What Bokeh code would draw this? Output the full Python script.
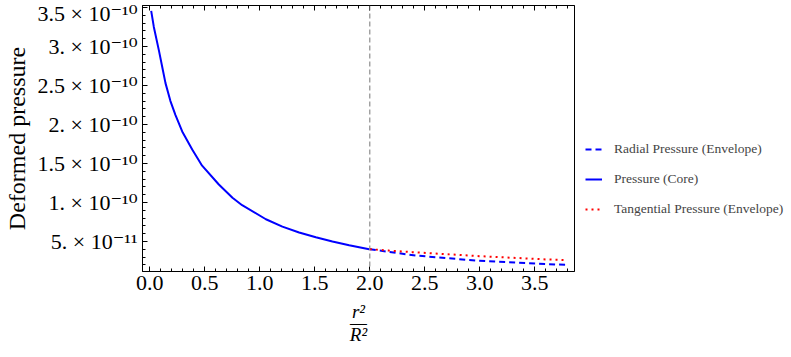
import numpy as np
from bokeh.plotting import figure
from bokeh.models import (Range1d, LinearAxis, FixedTicker, Legend, LegendItem,
                          Span, CustomJSTickFormatter)
from bokeh.embed import file_html
from bokeh.resources import INLINE

# ---- data ----
core_x = [0.012, 0.036, 0.082, 0.112, 0.142, 0.187, 0.233, 0.294, 0.385, 0.475,
          0.627, 0.751, 0.839, 1.055, 1.205, 1.357, 1.509, 1.660, 1.812, 1.994]
core_p = [3.456e-10, 3.250e-10, 2.950e-10, 2.740e-10, 2.530e-10, 2.300e-10, 2.120e-10,
          1.910e-10, 1.680e-10, 1.472e-10, 1.230e-10, 1.060e-10, 0.965e-10, 0.785e-10,
          0.690e-10, 0.615e-10, 0.553e-10, 0.499e-10, 0.451e-10, 0.401e-10]

radial_x = [2.0, 2.175, 2.327, 2.433, 2.994, 3.600, 3.780]
radial_p = [0.401e-10, 0.366e-10, 0.337e-10, 0.318e-10, 0.252e-10, 0.210e-10, 0.200e-10]

tang_x = [2.0, 2.175, 2.387, 2.994, 3.600, 3.780]
tang_p = [0.401e-10, 0.383e-10, 0.363e-10, 0.312e-10, 0.270e-10, 0.262e-10]

boundary_x = 2.0

x_ticks = [0.0, 0.5, 1.0, 1.5, 2.0, 2.5, 3.0, 3.5]
x_tick_labels = ["0.0", "0.5", "1.0", "1.5", "2.0", "2.5", "3.0", "3.5"]
y_ticks = [5e-11, 1e-10, 1.5e-10, 2e-10, 2.5e-10, 3e-10, 3.5e-10]
y_tick_labels = ["5. × 10⁻¹¹", "1. × 10⁻¹⁰", "1.5 × 10⁻¹⁰", "2. × 10⁻¹⁰",
                 "2.5 × 10⁻¹⁰", "3. × 10⁻¹⁰", "3.5 × 10⁻¹⁰"]

legend_labels = ["Radial Pressure (Envelope)", "Pressure (Core)",
                 "Tangential Pressure (Envelope)"]
y_axis_title = "Deformed pressure"
x_axis_title = "r²\n—\nR²"

# ---- figure ----
FONT = "Liberation Serif"
TICK_FONT = "Liberation Serif, DejaVu Serif"
p = figure(frame_width=432, frame_height=266, output_backend="svg",
           toolbar_location=None,
           x_range=Range1d(-0.067, 3.861), y_range=Range1d(1.15e-11, 3.525e-10),
           min_border_left=135, min_border_right=0, min_border_top=5,
           min_border_bottom=0)
p.grid.visible = False
p.outline_line_color = "black"
p.outline_line_alpha = 1
p.background_fill_color = "white"

x_minor = [round(v, 2) for v in np.arange(0.0, 3.85, 0.1)]
y_minor = [v * 1e-11 for v in range(2, 36)]
xticker = FixedTicker(ticks=x_ticks, minor_ticks=x_minor)
yticker = FixedTicker(ticks=y_ticks, minor_ticks=y_minor)

def style_axis(ax):
    ax.axis_line_color = "black"
    ax.axis_line_width = 1
    ax.major_tick_in = 5
    ax.major_tick_out = 0
    ax.minor_tick_in = 3
    ax.minor_tick_out = 0
    ax.major_tick_line_color = "black"
    ax.minor_tick_line_color = "black"
    ax.major_label_text_font = FONT
    ax.major_label_text_color = "black"

xa = p.xaxis[0]
xa.ticker = xticker
xa.major_label_overrides = dict(zip(x_ticks, x_tick_labels))
style_axis(xa)
xa.major_label_text_font_size = "22px"
xa.major_label_standoff = 4
xa.axis_label = x_axis_title
xa.axis_label_text_font = FONT
xa.axis_label_text_font_size = "19px"
xa.axis_label_text_font_style = "italic"
xa.axis_label_text_color = "black"
xa.axis_label_text_line_height = 0.55
xa.axis_label_standoff = 8

ya = p.yaxis[0]
ya.ticker = yticker
ya.major_label_overrides = dict(zip(y_ticks, y_tick_labels))
style_axis(ya)
ya.major_label_text_font = TICK_FONT
ya.major_label_text_font_size = "22px"
ya.major_label_standoff = 5
ya.axis_label = y_axis_title
ya.axis_label_text_font = FONT
ya.axis_label_text_font_size = "24px"
ya.axis_label_text_font_style = "normal"
ya.axis_label_text_color = "black"
ya.axis_label_standoff = 5

blank = CustomJSTickFormatter(code="return ''")
top = LinearAxis(ticker=xticker, formatter=blank)
style_axis(top)
top.major_label_standoff = 0
p.add_layout(top, "above")

# ---- lines ----
r_core = p.line(core_x, core_p, line_color="#0000ff", line_width=2)
r_rad = p.line(radial_x, radial_p, line_color="#0000ff", line_width=2,
               line_dash="6 4")
r_tan = p.line(tang_x, tang_p, line_color="#ff0000", line_width=2,
               line_dash="2 4")

p.add_layout(Span(location=boundary_x, dimension="height", line_color="#777777",
                  line_width=1, line_dash="5 3"))

legend = Legend(items=[LegendItem(label=legend_labels[0], renderers=[r_rad]),
                       LegendItem(label=legend_labels[1], renderers=[r_core]),
                       LegendItem(label=legend_labels[2], renderers=[r_tan])],
                location=(6, 47), glyph_width=17, glyph_height=20,
                label_height=20, spacing=10, padding=5, margin=0,
                label_standoff=12, label_text_font=FONT,
                label_text_font_size="13.5px", border_line_alpha=0,
                background_fill_alpha=0)
p.add_layout(legend, "right")

open("out.html", "w").write(file_html(p, INLINE))
